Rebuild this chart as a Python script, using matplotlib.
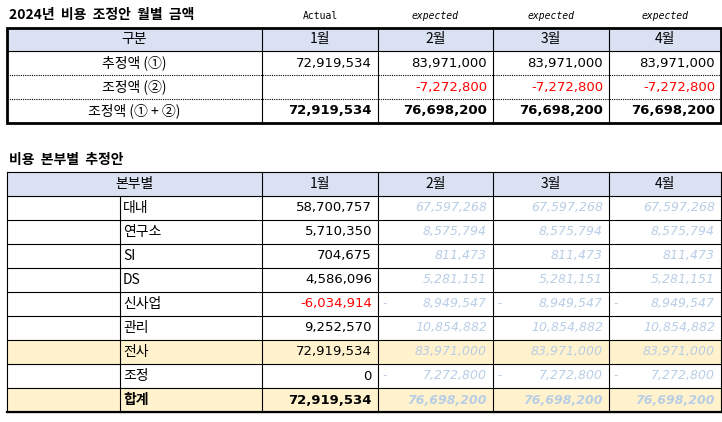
import matplotlib.pyplot as plt
from matplotlib.patches import Rectangle

plt.rcParams['font.family'] = ['Noto Sans CJK KR', 'DejaVu Sans']

# top table data
months = ['1월', '2월', '3월', '4월']
col_notes = ['Actual', 'expected', 'expected', 'expected']
top_rows = ['추정액 (①)', '조정액 (②)', '조정액 (① + ②)']
estimate = [72919534, 83971000, 83971000, 83971000]
adjust = [None, -7272800, -7272800, -7272800]
adjusted = [72919534, 76698200, 76698200, 76698200]

# bottom table data
divisions = ['대내', '연구소', 'SI', 'DS', '신사업', '관리', '전사', '조정', '합계']
jan_values = [58700757, 5710350, 704675, 4586096, -6034914, 9252570, 72919534, 0, 72919534]
forecast = [67597268, 8575794, 811473, 5281151, -8949547, 10854882, 83971000, -7272800, 76698200]

HEAD = '#D9E1F2'
YEL = '#FFF2CC'
PALE = '#B8CDE6'
NUM = 'DejaVu Sans'

fig = plt.figure(figsize=(7.22, 4.22), dpi=100)
ax = fig.add_axes([0, 0, 1, 1])
ax.set_xlim(0, 722)
ax.set_ylim(422, 0)
ax.axis('off')

cols = [7, 262, 378, 493, 609, 721]


def fmt(v):
    return f'{v:,}'


# ---- top table ----
ax.text(9, 15, '2024년  비용  조정안  월별  금액', fontsize=10, fontweight='bold', va='center')
for i, note in enumerate(col_notes):
    cx = (cols[i + 1] + cols[i + 2]) / 2
    ax.text(cx, 16, note, fontsize=7, ha='center', va='center',
            family='DejaVu Sans Mono', style='normal' if i == 0 else 'italic')

ty = [28, 51, 75, 99, 123]
ax.add_patch(Rectangle((cols[0], ty[0]), cols[-1] - cols[0], ty[1] - ty[0], color=HEAD, zorder=0))
ax.text((cols[0] + cols[1]) / 2, 39.5, '구분', fontsize=10, ha='center', va='center')
for i, m in enumerate(months):
    ax.text((cols[i + 1] + cols[i + 2]) / 2, 39.5, m, fontsize=10, ha='center', va='center')
for x in cols[1:-1]:
    ax.plot([x, x], [ty[0], ty[-1]], color='black', lw=0.8)
ax.plot([cols[0], cols[-1]], [ty[1], ty[1]], color='black', lw=0.8)
for y in ty[2:4]:
    ax.plot([cols[0], cols[-1]], [y, y], color='black', lw=0.8, ls=(0, (1, 1)))
ax.add_patch(Rectangle((cols[0], ty[0]), cols[-1] - cols[0], ty[-1] - ty[0],
                       fill=False, ec='black', lw=2))

row_vals = [estimate, adjust, adjusted]
for r, name in enumerate(top_rows):
    cy = (ty[r + 1] + ty[r + 2]) / 2
    ax.text((cols[0] + cols[1]) / 2, cy, name, fontsize=10, ha='center', va='center')
    for i, v in enumerate(row_vals[r]):
        if v is None:
            continue
        ax.text(cols[i + 2] - 6, cy, fmt(v), fontsize=9.5, ha='right', va='center',
                family=NUM, color='red' if v < 0 else 'black',
                fontweight='bold' if r == 2 else 'normal')

# ---- bottom table ----
ax.text(9, 160, '비용  본부별  추정안', fontsize=10, fontweight='bold', va='center')
by = [172 + 24 * k for k in range(11)]
ax.add_patch(Rectangle((cols[0], by[0]), cols[-1] - cols[0], 24, color=HEAD, zorder=0))
for k in (7, 9):
    ax.add_patch(Rectangle((cols[0], by[k]), cols[-1] - cols[0], 24, color=YEL, zorder=0))
ax.text((cols[0] + cols[1]) / 2, 184, '본부별', fontsize=10, ha='center', va='center')
for i, m in enumerate(months):
    ax.text((cols[i + 1] + cols[i + 2]) / 2, 184, m, fontsize=10, ha='center', va='center')
for y in by:
    ax.plot([cols[0], cols[-1]], [y, y], color='black', lw=0.8)
ax.plot([cols[0], cols[-1]], [by[-1], by[-1]], color='black', lw=1.6)
for x in cols:
    ax.plot([x, x], [by[0], by[-1]], color='black', lw=0.8)
ax.plot([120, 120], [by[1], by[-1]], color='black', lw=0.8)

for r, name in enumerate(divisions):
    cy = (by[r + 1] + by[r + 2]) / 2
    bold = r == len(divisions) - 1
    ax.text(123, cy, name, fontsize=10, ha='left', va='center',
            fontweight='bold' if bold else 'normal')
    v = jan_values[r]
    ax.text(cols[2] - 6, cy, fmt(v), fontsize=9.5, ha='right', va='center', family=NUM,
            color='red' if v < 0 else 'black', fontweight='bold' if bold else 'normal')
    f = forecast[r]
    for i in range(3):
        if f < 0:
            ax.text(cols[i + 2] + 4, cy, '-', fontsize=9, ha='left', va='center',
                    family=NUM, color=PALE)
        ax.text(cols[i + 3] - 6, cy, f'{abs(f):,}', fontsize=9, ha='right', va='center',
                family=NUM, color=PALE, style='italic',
                fontweight='bold' if bold else 'normal')

fig.savefig('out.png', dpi=100)
